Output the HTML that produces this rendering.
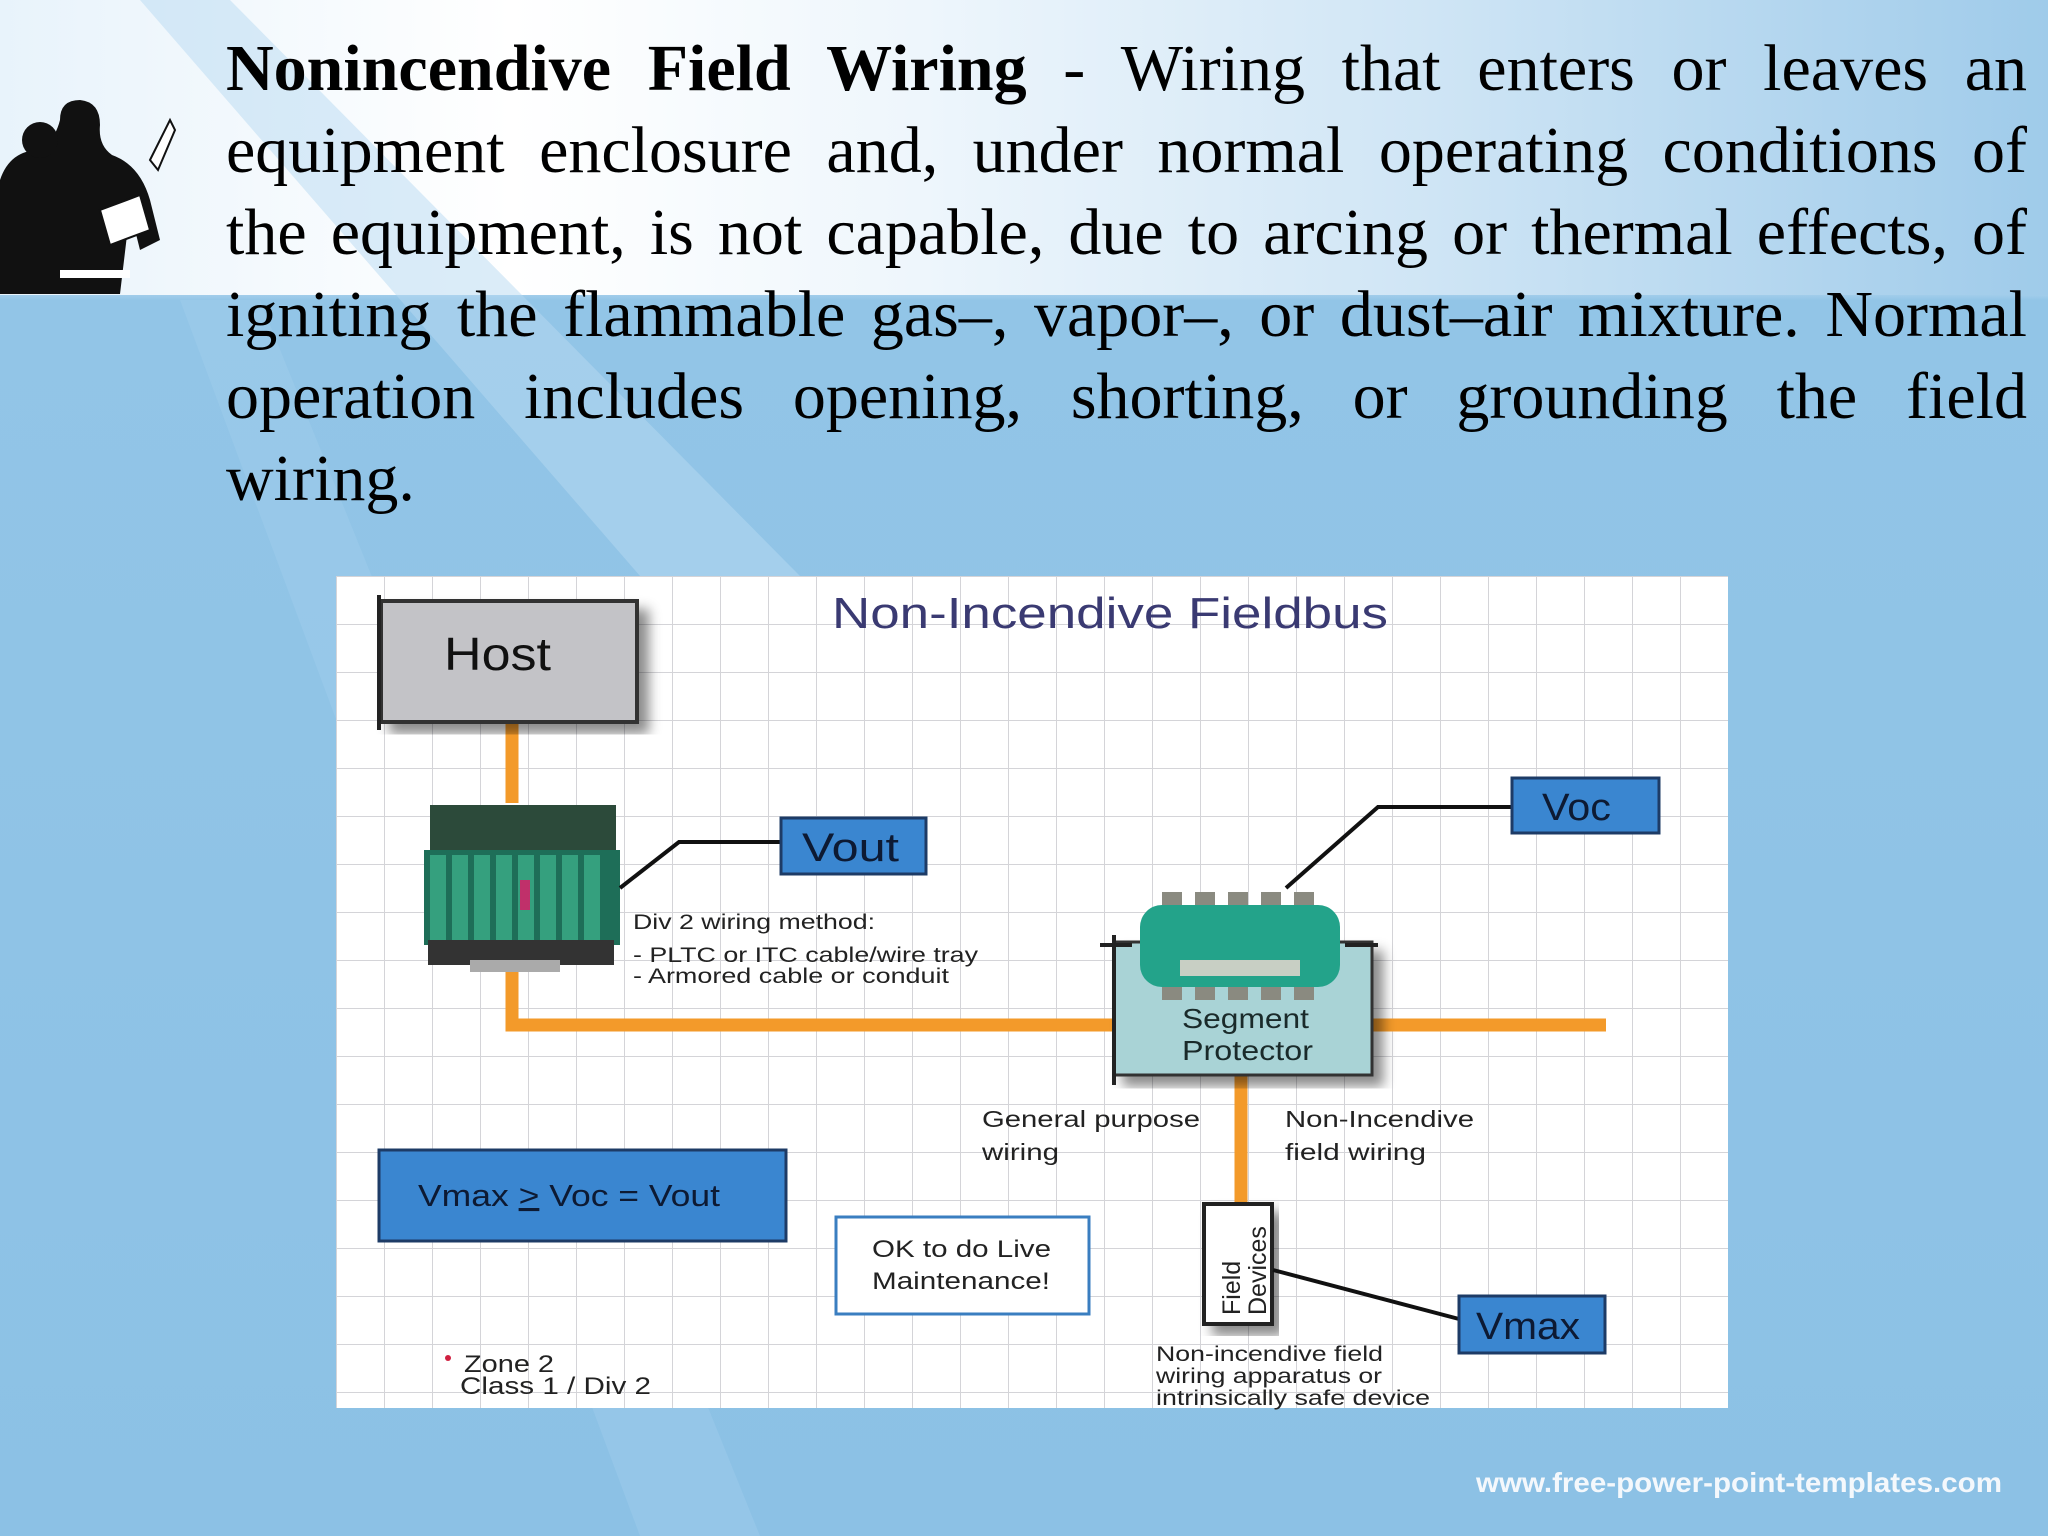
<!DOCTYPE html>
<html><head><meta charset="utf-8">
<style>
html,body{margin:0;padding:0;}
body{width:2048px;height:1536px;position:relative;overflow:hidden;
background:linear-gradient(180deg,#d9ecf8 0px,#cfe6f6 280px,#92c5e7 300px,#8cc1e5 1536px);}
#topband{position:absolute;left:0;top:0;width:2048px;height:295px;
background:linear-gradient(90deg,#e8f3fb 0%,#ffffff 25%,#eef6fc 45%,#cfe5f5 70%,#9fcbea 100%);}
#diag{position:absolute;left:0;top:0;}
#txt{position:absolute;left:226px;top:28px;width:1801px;font-family:"Liberation Serif",serif;font-size:66px;line-height:82px;color:#000;}
#txt div{text-align:justify;text-align-last:justify;white-space:nowrap;}
#txt div.last{text-align-last:left;}
svg text{font-family:"Liberation Sans",sans-serif;}
</style></head><body>
<div id="topband"></div>
<svg id="diag" width="2048" height="1536" viewBox="0 0 2048 1536">
<defs>
<pattern id="grid" x="336" y="576" width="48" height="48" patternUnits="userSpaceOnUse">
<rect width="48" height="48" fill="#fff"/>
<path d="M0 0H48M0 0V48" stroke="#d4d4d8" stroke-width="2"/>
</pattern>
<filter id="sh"><feDropShadow dx="10" dy="10" stdDeviation="6" flood-color="#000" flood-opacity="0.45"/></filter>
</defs>
<polygon points="140,0 230,0 800,576 640,576" fill="#b7daf1" opacity="0.5"/>
<polygon points="180,300 260,300 760,1536 640,1536" fill="#a5d0ee" opacity="0.35"/>
<g fill="#111">
<path d="M0 180 Q10 150 40 150 Q55 140 60 120 Q60 100 80 100 Q100 102 100 125 Q98 145 112 155 Q140 165 150 200 L160 240 L140 250 L130 210 L120 294 L0 294 Z"/>
<circle cx="40" cy="140" r="18"/>
<rect x="60" y="270" width="70" height="8" fill="#fff"/>
<path d="M150 160 L170 120 L175 130 L158 170 Z" fill="#fff" stroke="#111" stroke-width="2"/>
<path d="M100 210 L140 195 L150 230 L110 245 Z" fill="#fff" stroke="#111" stroke-width="2"/>
</g>
<rect x="336" y="576" width="1392" height="832" fill="url(#grid)"/>
<g stroke="#f39a2a" stroke-width="13" fill="none">
<path d="M512 722V803"/>
<path d="M512 970V1025H1112"/>
<path d="M1370 1025H1606"/>
<path d="M1241 1074V1204"/>
</g>
<text x="832" y="628" textLength="556" lengthAdjust="spacingAndGlyphs" font-size="44" fill="#3a3a72">Non-Incendive Fieldbus</text>
<rect x="381" y="601" width="256" height="121" fill="#c3c3c7" stroke="#333" stroke-width="4" filter="url(#sh)"/>
<path d="M379 595V730" stroke="#222" stroke-width="4"/>
<text x="444" y="670" textLength="107" lengthAdjust="spacingAndGlyphs" font-size="46" fill="#111">Host</text>
<g>
<rect x="430" y="805" width="186" height="50" fill="#2c4a3a"/>
<rect x="424" y="850" width="196" height="95" fill="#1e6e58"/>
<g fill="#35a07e">
<rect x="430" y="855" width="16" height="88"/><rect x="452" y="855" width="16" height="88"/><rect x="474" y="855" width="16" height="88"/><rect x="496" y="855" width="16" height="88"/><rect x="518" y="855" width="16" height="88"/><rect x="540" y="855" width="16" height="88"/><rect x="562" y="855" width="16" height="88"/><rect x="584" y="855" width="16" height="88"/>
</g>
<rect x="520" y="880" width="10" height="30" fill="#c0306a"/>
<rect x="428" y="940" width="186" height="25" fill="#333"/>
<rect x="470" y="960" width="90" height="12" fill="#aaa"/>
</g>
<path d="M620 888L679 842H781" stroke="#111" stroke-width="4" fill="none"/>
<rect x="781" y="818" width="145" height="56" fill="#3a86d0" stroke="#1d3b66" stroke-width="3"/>
<text x="802" y="861" textLength="97" lengthAdjust="spacingAndGlyphs" font-size="40" fill="#0d1a33">Vout</text>
<g font-size="21" fill="#222">
<text x="633" y="929" textLength="242" lengthAdjust="spacingAndGlyphs">Div 2 wiring method:</text>
<text x="633" y="962" textLength="345" lengthAdjust="spacingAndGlyphs">- PLTC or ITC cable/wire tray</text>
<text x="633" y="983" textLength="316" lengthAdjust="spacingAndGlyphs">- Armored cable or conduit</text>
</g>
<path d="M1286 888L1378 807H1512" stroke="#111" stroke-width="4" fill="none"/>
<rect x="1512" y="778" width="147" height="55" fill="#3a86d0" stroke="#1d3b66" stroke-width="3"/>
<text x="1542" y="820" textLength="69" lengthAdjust="spacingAndGlyphs" font-size="38" fill="#0d1a33">Voc</text>
<rect x="1114" y="942" width="258" height="133" fill="#a9d3d6" stroke="#333" stroke-width="3" filter="url(#sh)"/>
<path d="M1100 945H1132M1345 945H1378M1114 935V1085" stroke="#222" stroke-width="4"/>
<g fill="#8a8a80"><rect x="1162" y="892" width="20" height="18"/><rect x="1195" y="892" width="20" height="18"/><rect x="1228" y="892" width="20" height="18"/><rect x="1261" y="892" width="20" height="18"/><rect x="1294" y="892" width="20" height="18"/>
<rect x="1162" y="982" width="20" height="18"/><rect x="1195" y="982" width="20" height="18"/><rect x="1228" y="982" width="20" height="18"/><rect x="1261" y="982" width="20" height="18"/><rect x="1294" y="982" width="20" height="18"/></g>
<rect x="1140" y="905" width="200" height="82" rx="22" fill="#23a38a"/>
<rect x="1180" y="960" width="120" height="16" fill="#c8cfc4"/>
<text x="1182" y="1028" textLength="127" lengthAdjust="spacingAndGlyphs" font-size="28" fill="#1a2a2a">Segment</text>
<text x="1182" y="1060" textLength="131" lengthAdjust="spacingAndGlyphs" font-size="28" fill="#1a2a2a">Protector</text>
<g font-size="23" fill="#222">
<text x="982" y="1127" textLength="218" lengthAdjust="spacingAndGlyphs">General purpose</text>
<text x="982" y="1160" textLength="77" lengthAdjust="spacingAndGlyphs">wiring</text>
<text x="1285" y="1127" textLength="189" lengthAdjust="spacingAndGlyphs">Non-Incendive</text>
<text x="1285" y="1160" textLength="141" lengthAdjust="spacingAndGlyphs">field wiring</text>
</g>
<rect x="379" y="1150" width="407" height="91" fill="#3a86d0" stroke="#1d3b66" stroke-width="3"/>
<text x="418" y="1206" textLength="302" lengthAdjust="spacingAndGlyphs" font-size="31" fill="#0d1a33">Vmax <tspan text-decoration="underline">&gt;</tspan> Voc = Vout</text>
<rect x="836" y="1217" width="253" height="97" fill="#fff" stroke="#3a7ec0" stroke-width="3"/>
<text x="872" y="1257" textLength="179" lengthAdjust="spacingAndGlyphs" font-size="24" fill="#222">OK to do Live</text>
<text x="872" y="1289" textLength="178" lengthAdjust="spacingAndGlyphs" font-size="24" fill="#222">Maintenance!</text>
<rect x="1204" y="1204" width="68" height="120" fill="#fff" stroke="#222" stroke-width="4" filter="url(#sh)"/>
<text transform="translate(1240,1315) rotate(-90)" font-size="25" fill="#222">Field</text>
<text transform="translate(1266,1315) rotate(-90)" font-size="25" fill="#222">Devices</text>
<path d="M1273 1270L1459 1319" stroke="#111" stroke-width="4"/>
<rect x="1459" y="1296" width="146" height="57" fill="#3a86d0" stroke="#1d3b66" stroke-width="3"/>
<text x="1476" y="1339" textLength="104" lengthAdjust="spacingAndGlyphs" font-size="38" fill="#0d1a33">Vmax</text>
<g font-size="21" fill="#222">
<text x="1156" y="1361" textLength="227" lengthAdjust="spacingAndGlyphs">Non-incendive field</text>
<text x="1156" y="1383" textLength="226" lengthAdjust="spacingAndGlyphs">wiring apparatus or</text>
<text x="1156" y="1405" textLength="274" lengthAdjust="spacingAndGlyphs">intrinsically safe device</text>
</g>
<circle cx="448" cy="1358" r="3" fill="#d02040"/>
<text x="464" y="1372" textLength="90" lengthAdjust="spacingAndGlyphs" font-size="24" fill="#222">Zone 2</text>
<text x="460" y="1394" textLength="191" lengthAdjust="spacingAndGlyphs" font-size="24" fill="#222">Class 1 / Div 2</text>
<text x="1476" y="1492" textLength="526" lengthAdjust="spacingAndGlyphs" font-weight="bold" font-size="28" fill="#f4f8fc">www.free-power-point-templates.com</text>
</svg>
<div id="txt">
<div><b>Nonincendive Field Wiring</b> - Wiring that enters or leaves an</div>
<div>equipment enclosure and, under normal operating conditions of</div>
<div>the equipment, is not capable, due to arcing or thermal effects, of</div>
<div>igniting the flammable gas–, vapor–, or dust–air mixture. Normal</div>
<div>operation includes opening, shorting, or grounding the field</div>
<div class="last">wiring.</div>
</div>
</body></html>
